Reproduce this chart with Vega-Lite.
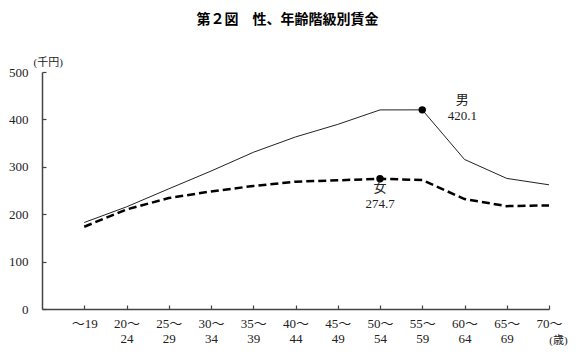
{
  "$schema": "https://vega.github.io/schema/vega-lite/v6.json",
  "autosize": "none",
  "width": 507,
  "height": 237,
  "padding": {"left": 42, "top": 72, "right": 31, "bottom": 48},
  "background": "white",
  "title": {
    "text": "第２図　性、年齢階級別賃金",
    "font": "Noto Sans CJK JP",
    "fontWeight": "bold",
    "fontSize": 14,
    "anchor": "middle",
    "dx": -8,
    "offset": 29,
    "color": "#000"
  },
  "config": {
    "view": {"stroke": null},
    "axis": {
      "labelFont": "Liberation Serif, Noto Sans CJK JP",
      "labelFontSize": 13,
      "labelColor": "#222",
      "domainColor": "#444",
      "tickColor": "#444",
      "domainWidth": 1.5,
      "tickWidth": 1.2,
      "grid": false
    }
  },
  "datasets": {
    "wages": [
      {"sex": "男", "n": 1, "age": "～19", "wage": 182.5},
      {"sex": "男", "n": 2, "age": "20～24", "wage": 215.5},
      {"sex": "男", "n": 3, "age": "25～29", "wage": 253.5},
      {"sex": "男", "n": 4, "age": "30～34", "wage": 291.0},
      {"sex": "男", "n": 5, "age": "35～39", "wage": 330.5},
      {"sex": "男", "n": 6, "age": "40～44", "wage": 363.0},
      {"sex": "男", "n": 7, "age": "45～49", "wage": 389.5},
      {"sex": "男", "n": 8, "age": "50～54", "wage": 420.0},
      {"sex": "男", "n": 9, "age": "55～59", "wage": 420.1},
      {"sex": "男", "n": 10, "age": "60～64", "wage": 315.5},
      {"sex": "男", "n": 11, "age": "65～69", "wage": 275.5},
      {"sex": "男", "n": 12, "age": "70～", "wage": 262.0},
      {"sex": "女", "n": 1, "age": "～19", "wage": 173.5},
      {"sex": "女", "n": 2, "age": "20～24", "wage": 210.0},
      {"sex": "女", "n": 3, "age": "25～29", "wage": 234.0},
      {"sex": "女", "n": 4, "age": "30～34", "wage": 248.0},
      {"sex": "女", "n": 5, "age": "35～39", "wage": 259.5},
      {"sex": "女", "n": 6, "age": "40～44", "wage": 268.5},
      {"sex": "女", "n": 7, "age": "45～49", "wage": 271.5},
      {"sex": "女", "n": 8, "age": "50～54", "wage": 274.7},
      {"sex": "女", "n": 9, "age": "55～59", "wage": 272.0},
      {"sex": "女", "n": 10, "age": "60～64", "wage": 232.0},
      {"sex": "女", "n": 11, "age": "65～69", "wage": 217.0},
      {"sex": "女", "n": 12, "age": "70～", "wage": 218.5}
    ],
    "peaks": [
      {"sex": "男", "n": 9, "wage": 420.1, "note": "男\n420.1"},
      {"sex": "女", "n": 8, "wage": 274.7, "note": "女\n274.7"}
    ]
  },
  "encoding": {
    "x": {
      "field": "n",
      "type": "quantitative",
      "scale": {"domain": [0, 12], "nice": false, "zero": false},
      "axis": {
        "values": [1, 2, 3, 4, 5, 6, 7, 8, 9, 10, 11, 12],
        "labelExpr": "[[''],['～19'],['20～','24'],['25～','29'],['30～','34'],['35～','39'],['40～','44'],['45～','49'],['50～','54'],['55～','59'],['60～','64'],['65～','69'],['70～','']][datum.value]",
        "tickSize": -4,
        "labelPadding": 12,
        "labelBaseline": "top",
        "labelLineHeight": 15,
        "labelFlush": false,
        "labelOverlap": false,
        "title": "(歳)",
        "titleFont": "Liberation Serif, Noto Sans CJK JP",
        "titleFontSize": 11,
        "titleFontWeight": "normal",
        "titleColor": "#222",
        "titleAnchor": "start",
        "titleAlign": "center",
        "titleX": 516,
        "titleY": 31,
        "titleBaseline": "middle"
      }
    },
    "y": {
      "field": "wage",
      "type": "quantitative",
      "scale": {"domain": [0, 500], "nice": false},
      "axis": {
        "values": [0, 100, 200, 300, 400, 500],
        "tickSize": -4,
        "labelPadding": 18,
        "title": "(千円)",
        "titleFont": "Liberation Serif, Noto Sans CJK JP",
        "titleFontSize": 11,
        "titleFontWeight": "normal",
        "titleColor": "#222",
        "titleAngle": 0,
        "titleAlign": "left",
        "titleBaseline": "bottom",
        "titleX": -9,
        "titleY": -5
      }
    }
  },
  "layer": [
    {
      "data": {"name": "wages"},
      "transform": [{"filter": "datum.sex === '男'"}],
      "mark": {"type": "line", "color": "#222", "strokeWidth": 1}
    },
    {
      "data": {"name": "wages"},
      "transform": [{"filter": "datum.sex === '女'"}],
      "mark": {"type": "line", "color": "#000", "strokeWidth": 2.5, "strokeDash": [8, 4]}
    },
    {
      "data": {"name": "peaks"},
      "mark": {"type": "circle", "color": "#000", "opacity": 1, "size": 55}
    },
    {
      "data": {"name": "peaks"},
      "transform": [{"filter": "datum.sex === '男'"}],
      "mark": {"type": "text", "font": "Liberation Serif, Noto Sans CJK JP", "fontSize": 13, "color": "#222", "lineBreak": "\n", "lineHeight": 16, "align": "center", "baseline": "bottom", "dx": 40, "dy": -3},
      "encoding": {"text": {"field": "note"}}
    },
    {
      "data": {"name": "peaks"},
      "transform": [{"filter": "datum.sex === '女'"}],
      "mark": {"type": "text", "font": "Liberation Serif, Noto Sans CJK JP", "fontSize": 13, "color": "#222", "lineBreak": "\n", "lineHeight": 16, "align": "center", "baseline": "top", "dx": 0, "dy": 3},
      "encoding": {"text": {"field": "note"}}
    },
    {
      "data": {"values": [{}]},
      "mark": {"type": "text", "font": "Liberation Serif, Noto Sans CJK JP", "fontSize": 12, "color": "#222", "align": "right", "baseline": "middle", "dx": -7, "dy": -12},
      "encoding": {
        "x": {"datum": 12, "type": "quantitative"},
        "y": {"datum": 500, "type": "quantitative"},
        "text": {"value": "令和２年"}
      }
    }
  ]
}
